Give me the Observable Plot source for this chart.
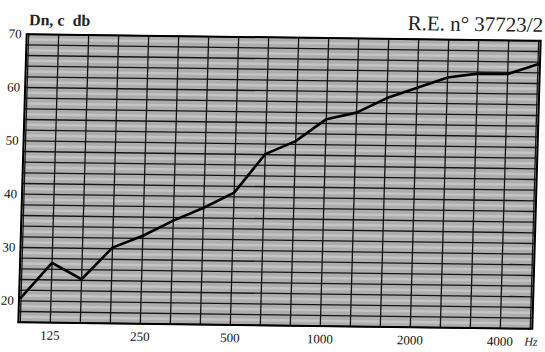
<!DOCTYPE html>
<html><head><meta charset="utf-8">
<script src="https://cdn.jsdelivr.net/npm/d3@7"></script>
<script src="https://cdn.jsdelivr.net/npm/@observablehq/plot@0.6"></script>
<style>
html,body{margin:0;padding:0;background:#fff;overflow:hidden}
#chart svg{display:block;transform:matrix(1,0.013,-0.029,1,0,0);transform-origin:279px 181px}
</style></head><body><div id="chart"></div>
<script>
// third-octave bands (Hz) and normalised level difference Dn,c (dB)
const bands = [100,125,160,200,250,315,400,500,630,800,1000,1250,1600,2000,2500,3150,4000,5000];
const dnc = [20.6,27.2,24.2,30.2,32.5,35.4,37.9,40.8,48.1,50.6,54.8,56.1,58.9,60.9,62.9,63.7,63.7,65.6];
const xTicks = [125,250,500,1000,2000,4000];
const yTicks = [20,30,40,50,60,70];
const yGrid = d3.range(16, 71, 2);
const yStreaks = d3.range(17, 70, 2);
const yLabel = "Dn, c  db";
const reportLabel = "R.E. n° 37723/2";
const unitLabel = "Hz";

const data = bands.map((f, i) => ({f, v: dnc[i]}));
const serif = '"Liberation Serif", "Times New Roman", serif';

const chart = Plot.plot({
  width: 545, height: 352,
  marginLeft: 22, marginRight: 9, marginTop: 37, marginBottom: 27,
  style: {fontFamily: serif, fontSize: "13px", color: "#111", background: "transparent", overflow: "visible"},
  x: {type: "point", domain: bands, padding: 0, ticks: xTicks, tickFormat: d => String(d), tickSize: 0, tickPadding: 8, label: null},
  y: {domain: [16, 70], ticks: yTicks, tickSize: 0, tickPadding: 5, label: null},
  marks: [
    Plot.frame({fill: "#adadad", stroke: null}),
    Plot.ruleY(yStreaks, {stroke: "#fff", strokeOpacity: 0.28, strokeWidth: 2.5}),
    Plot.ruleX(bands, {stroke: "#151515", strokeWidth: 1.3}),
    Plot.ruleY(yGrid, {stroke: "#151515", strokeWidth: 1.3}),
    Plot.frame({stroke: "#000", strokeWidth: 2}),
    Plot.line(data, {x: "f", y: "v", stroke: "#000", strokeWidth: 2.6}),
    Plot.text([yLabel], {frameAnchor: "top-left", textAnchor: "start", lineAnchor: "bottom", dx: 2, dy: -9, fontSize: 16, fontWeight: "bold", fill: "#222"}),
    Plot.text([reportLabel], {frameAnchor: "top-right", textAnchor: "end", lineAnchor: "bottom", dx: 2, dy: -9, fontSize: 21, fill: "#222"}),
    Plot.text([unitLabel], {frameAnchor: "bottom-right", textAnchor: "middle", lineAnchor: "middle", dx: -1, dy: 13, fontSize: 12, fontStyle: "italic", fill: "#222"})
  ]
});
document.getElementById("chart").appendChild(chart);
</script></body></html>
